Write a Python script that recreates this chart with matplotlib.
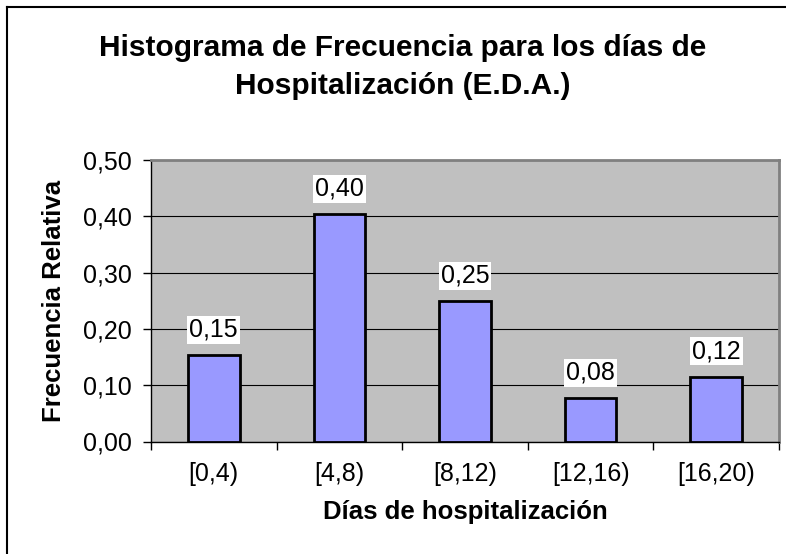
import matplotlib
matplotlib.use("Agg")
import matplotlib.pyplot as plt
from matplotlib.lines import Line2D
import numpy as np

plt.rcParams['font.family'] = ['Liberation Sans', 'DejaVu Sans']

categories = ["[0,4)", "[4,8)", "[8,12)", "[12,16)", "[16,20)"]
rel_freq = [8/52, 21/52, 13/52, 4/52, 6/52]
y_ticks = [0.0, 0.1, 0.2, 0.3, 0.4, 0.5]

fig = plt.figure(figsize=(7.86, 5.54), dpi=100)
ax = fig.add_axes([151/786, 1 - 441.5/554, (779 - 151)/786, (441.5 - 160)/554])
ax.set_facecolor('#C0C0C0')

x = np.arange(len(categories))
bars = ax.bar(x, rel_freq, width=0.41, color='#9999FF', edgecolor='black',
              linewidth=2, zorder=3)

for xi, v in zip(x, rel_freq):
    ax.annotate(f"{v:.2f}".replace('.', ','), xy=(xi, v), xytext=(0, 9.5),
                textcoords='offset points', ha='center', va='bottom',
                fontsize=18, zorder=4,
                bbox=dict(boxstyle='square,pad=0.08', fc='white', ec='none'))

ax.set_xlim(-0.5, len(categories) - 0.5)
ax.set_ylim(0, 0.5)
ax.set_yticks(y_ticks)
ax.set_yticklabels([f"{t:.2f}".replace('.', ',') for t in y_ticks], fontsize=18)
ax.set_xticks(x)
ax.set_xticklabels(categories, fontsize=18)
ax.set_xticks(np.arange(len(categories) + 1) - 0.5, minor=True)
ax.tick_params(axis='x', which='major', length=0, pad=15)
ax.tick_params(axis='x', which='minor', length=6, width=1, direction='out')
ax.tick_params(axis='y', which='major', length=6, width=1, direction='out', pad=8)

ax.grid(axis='y', color='black', linewidth=0.8, zorder=1)
ax.set_axisbelow(True)

for s in ['top', 'right']:
    ax.spines[s].set_color('#808080')
    ax.spines[s].set_linewidth(2)
for s in ['left', 'bottom']:
    ax.spines[s].set_color('black')
    ax.spines[s].set_linewidth(1)

ax.set_ylabel("Frecuencia Relativa", fontsize=18.5, fontweight='bold', labelpad=12)
ax.set_xlabel("Días de hospitalización", fontsize=18.5, fontweight='bold', labelpad=10)

fig.text(0.512, 1 - 55.5/554, "Histograma de Frecuencia para los días de",
         ha='center', va='baseline', fontsize=21.5, fontweight='bold')
fig.text(0.512, 1 - 94/554, "Hospitalización (E.D.A.)",
         ha='center', va='baseline', fontsize=21.5, fontweight='bold')

# chart border (top and left visible)
fig.add_artist(Line2D([7/786, 7/786], [0, 1 - 7/554], color='black', linewidth=1.5,
                      transform=fig.transFigure))
fig.add_artist(Line2D([7/786, 1], [1 - 7/554, 1 - 7/554], color='black', linewidth=1.5,
                      transform=fig.transFigure))

fig.savefig("out.png", dpi=100)
